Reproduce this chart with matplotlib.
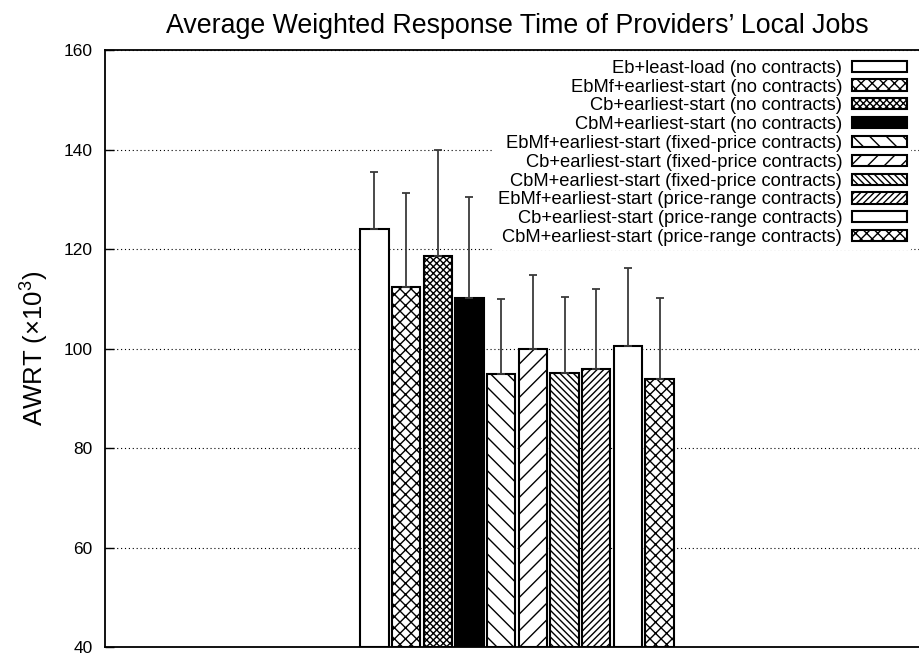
import numpy as np
import matplotlib
matplotlib.use("Agg")
import matplotlib.pyplot as plt

plt.rcParams['font.family'] = ['Liberation Sans', 'DejaVu Sans']
plt.rcParams['mathtext.fontset'] = 'custom'
plt.rcParams['mathtext.rm'] = 'Liberation Sans'
plt.rcParams['mathtext.default'] = 'regular'
plt.rcParams['hatch.linewidth'] = 1.0
plt.rcParams['hatch.color'] = 'black'
plt.rcParams['ytick.labelsize'] = 12.5

LABELS = [
    "Eb+least-load (no contracts)",
    "EbMf+earliest-start (no contracts)",
    "Cb+earliest-start (no contracts)",
    "CbM+earliest-start (no contracts)",
    "EbMf+earliest-start (fixed-price contracts)",
    "Cb+earliest-start (fixed-price contracts)",
    "CbM+earliest-start (fixed-price contracts)",
    "EbMf+earliest-start (price-range contracts)",
    "Cb+earliest-start (price-range contracts)",
    "CbM+earliest-start (price-range contracts)",
]
AWRT = [124.0, 112.4, 118.5, 110.2, 94.8, 100.0, 95.1, 95.9, 100.6, 93.9]
AWRT_ERR = [11.5, 18.9, 21.4, 20.3, 15.1, 14.7, 15.3, 16.1, 15.5, 16.3]

FILLS = ['white', 'white', 'white', 'black', 'white',
         'white', 'white', 'white', 'white', 'white']
HATCHES = ['', 'xxx', 'xxxxx', '', '\\\\', '//', '\\\\\\\\\\',
           '/////', '', 'xxx']

STEP = 0.0769
BAR_WIDTH = 0.0692

fig = plt.figure(figsize=(9.2, 6.53), dpi=100)
ax = fig.add_axes([105 / 920, 6 / 653, 824 / 920, 597 / 653])

n = len(AWRT)
ind = (np.arange(n) - (n - 1) / 2.0) * STEP

bars = []
for x, v, fc, h, lab in zip(ind, AWRT, FILLS, HATCHES, LABELS):
    b = ax.bar(x, v - 40, BAR_WIDTH, bottom=40, color=fc, hatch=h,
               edgecolor='black', linewidth=1.5, label=lab, zorder=2)
    bars.append(b)

ax.errorbar(ind, AWRT, yerr=[np.zeros(n), AWRT_ERR], fmt='none',
            ecolor='#3a3a3a', elinewidth=1.3, capsize=3, capthick=1.3,
            zorder=3)

ax.set_xlim(-1, 1)
ax.set_ylim(40, 160)
ax.set_yticks(np.arange(40, 161, 20))
ax.set_xticks([])
ax.tick_params(axis='y', direction='in', length=6.5, width=1.0, pad=9,
               labelsize=12.5, right=True)
for t in ax.get_yticklabels():
    t.set_fontsize(12.5)
ax.yaxis.grid(True, linestyle=(0, (1, 2.5)), color='black', linewidth=0.8)
ax.set_axisbelow(True)
for sp in ax.spines.values():
    sp.set_linewidth(1.3)

ax.set_ylabel('AWRT (×10$^3$)', fontsize=18.5, labelpad=9)
ax.set_title("Average Weighted Response Time of Providers’ Local Jobs",
             fontsize=19.3, pad=12)

leg = fig.legend(handles=[b[0] for b in bars], labels=LABELS,
                 loc='upper right', bbox_to_anchor=(911 / 920, 1 - 56 / 653),
                 fontsize=13.2, markerfirst=False, frameon=True,
                 fancybox=False, edgecolor='none', facecolor='white',
                 framealpha=1.0, handlelength=3.0, handleheight=0.55,
                 handletextpad=0.55, labelspacing=0.1, borderpad=0.2,
                 borderaxespad=0)
leg.set_zorder(5)

fig.savefig('out.png', dpi=100)
